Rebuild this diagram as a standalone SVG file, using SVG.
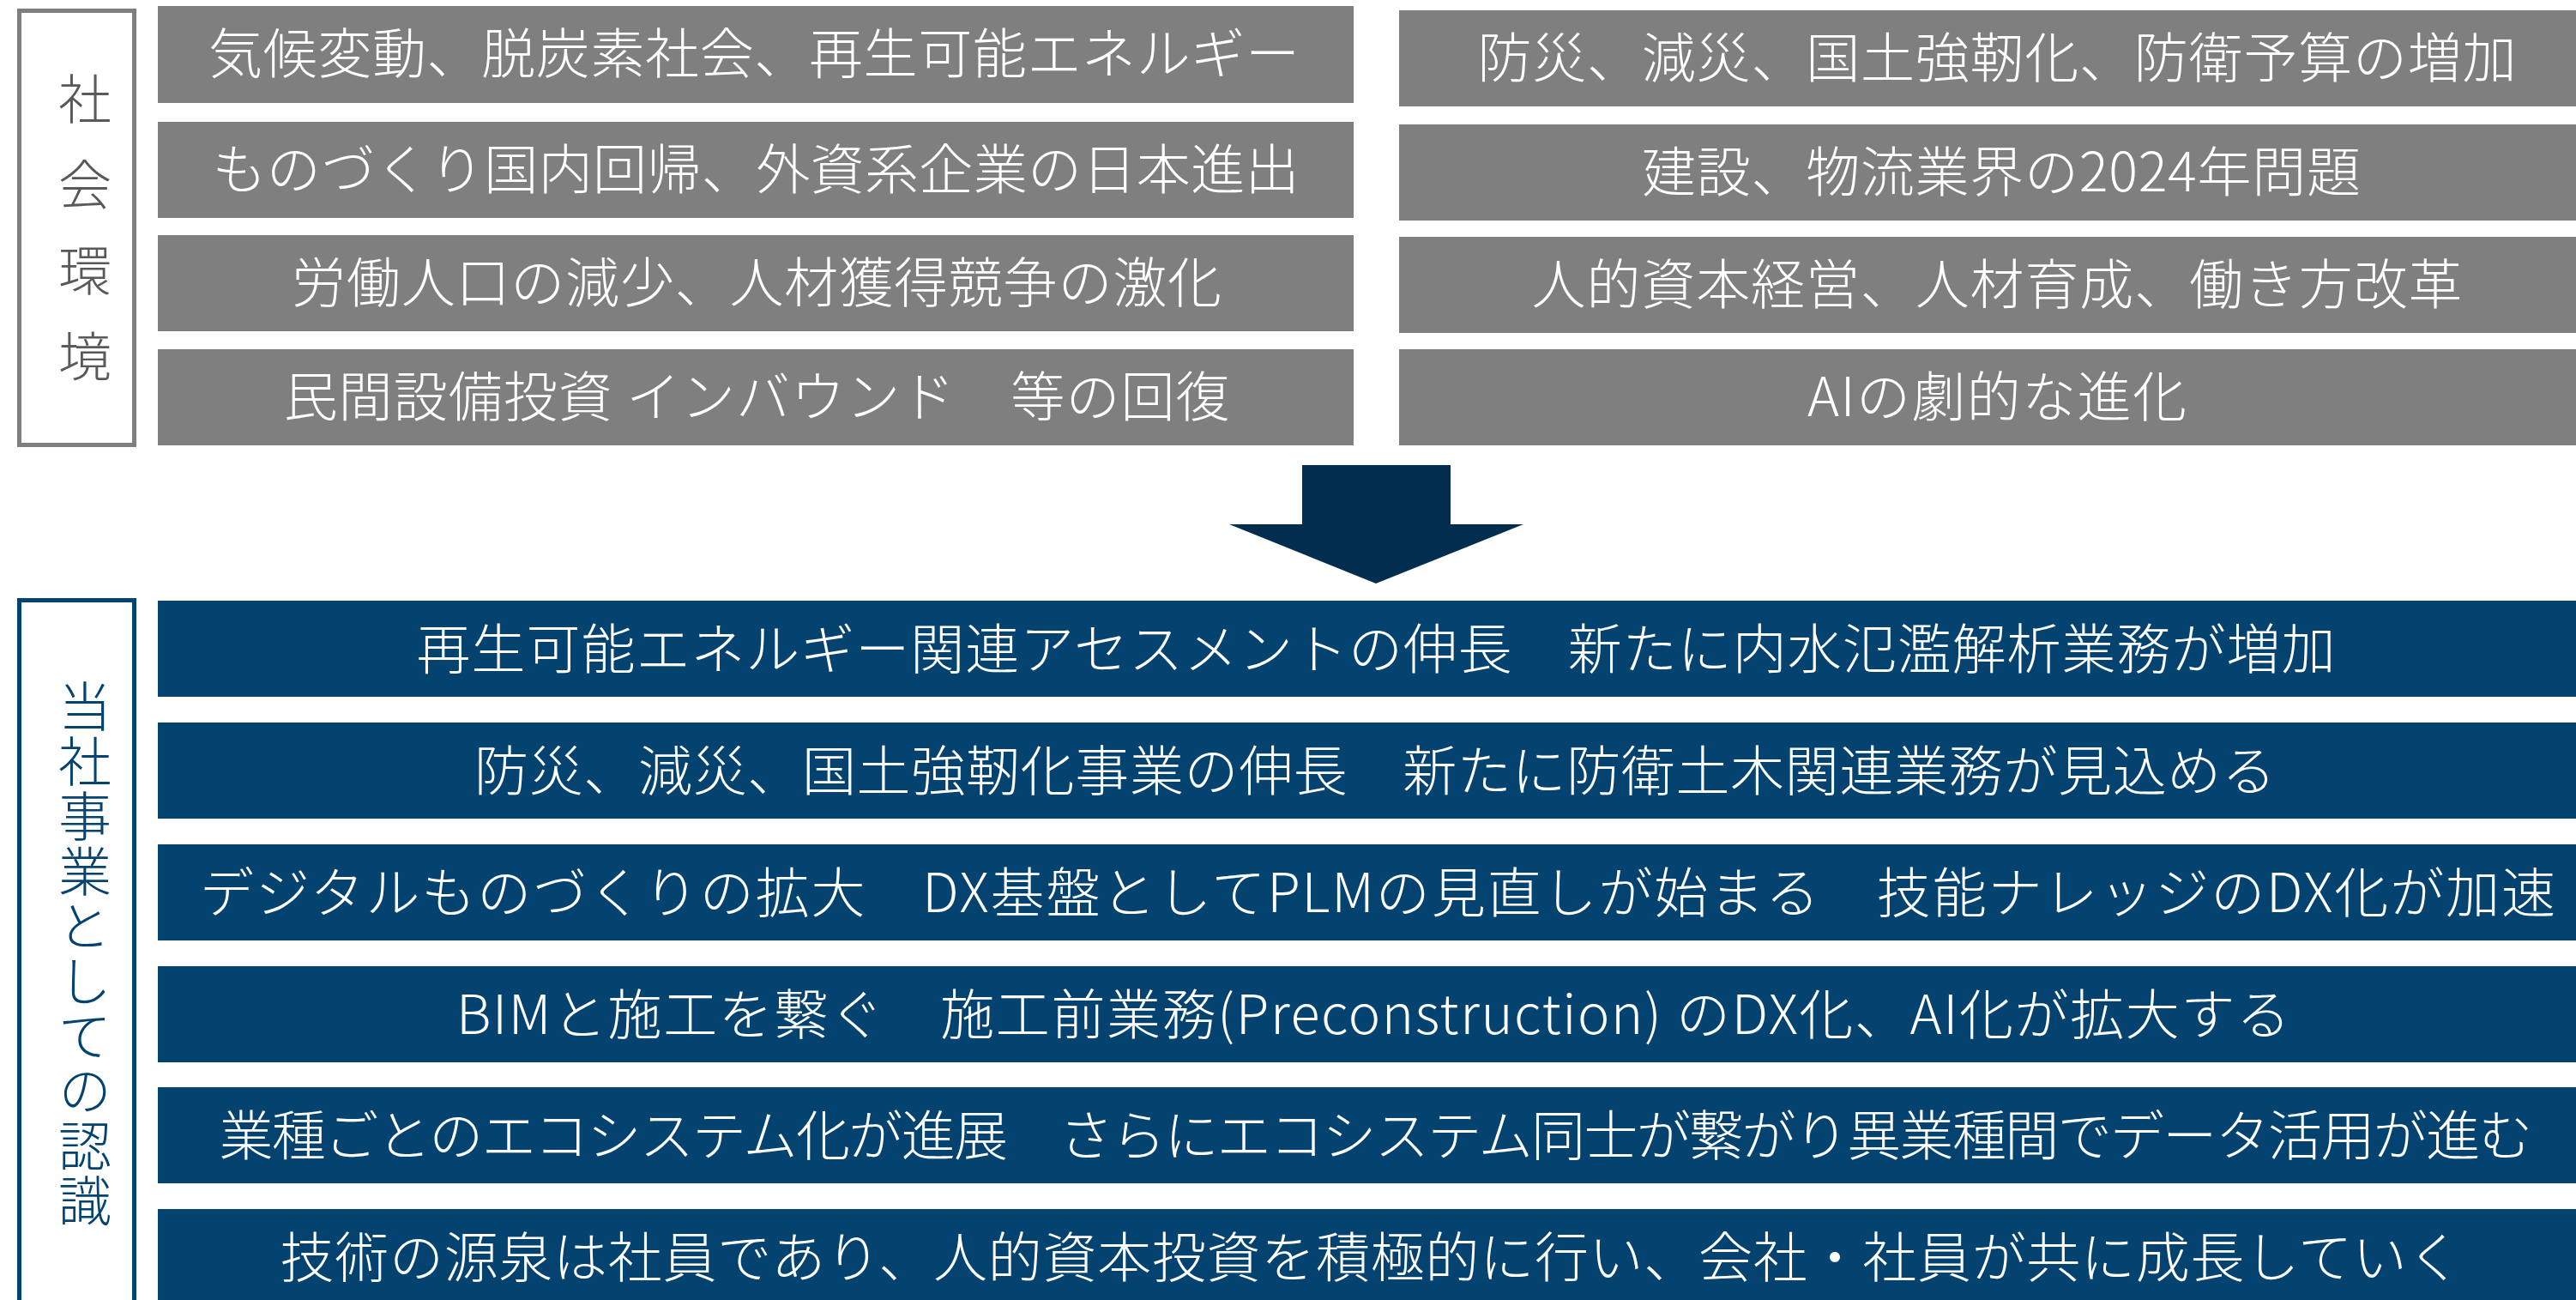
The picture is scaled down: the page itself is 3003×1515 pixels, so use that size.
<svg xmlns="http://www.w3.org/2000/svg" width="3003" height="1515" viewBox="0 0 3003 1515">
<style>
.bg{fill:#ffffff}
.gbox{fill:#7f7f7f}
.bbox{fill:#04426f}
.t{font-family:"Noto Sans CJK JP","Noto Sans",sans-serif;font-weight:300;font-size:63px;fill:#ffffff;text-anchor:middle}
.glab{fill:none;stroke:#7f7f7f;stroke-width:5}
.blab{fill:none;stroke:#04426f;stroke-width:5}
.gl{font-family:"Noto Sans CJK JP","Noto Sans",sans-serif;font-weight:300;font-size:62px;fill:#595959;writing-mode:vertical-rl;text-anchor:start;letter-spacing:38px}
.bl{font-family:"Noto Sans CJK JP","Noto Sans",sans-serif;font-weight:300;font-size:62px;fill:#04426f;writing-mode:vertical-rl;text-anchor:start;letter-spacing:2px}
.arrow{fill:#032d4e}
</style>
<rect class="bg" x="0" y="0" width="3003" height="1515"/>

<g id="label-shakai">
<rect class="glab" x="22.5" y="12.5" width="134" height="506"/>
<text class="gl" x="99" y="84">社会環境</text>
</g>

<g id="env-l1"><rect class="gbox" x="184" y="7" width="1394" height="113"/><text class="t" x="879" y="85" textLength="1272" lengthAdjust="spacing">気候変動、脱炭素社会、再生可能エネルギー</text></g>
<g id="env-l2"><rect class="gbox" x="184" y="142" width="1394" height="112"/><text class="t" x="881" y="220" textLength="1267" lengthAdjust="spacing">ものづくり国内回帰、外資系企業の日本進出</text></g>
<g id="env-l3"><rect class="gbox" x="184" y="274" width="1394" height="112"/><text class="t" x="882" y="352" textLength="1084" lengthAdjust="spacing">労働人口の減少、人材獲得競争の激化</text></g>
<g id="env-l4"><rect class="gbox" x="184" y="407" width="1394" height="112"/><text class="t" x="882" y="485" textLength="1103" lengthAdjust="spacing">民間設備投資 インバウンド　等の回復</text></g>

<g id="env-r1"><rect class="gbox" x="1631" y="12" width="1372" height="112"/><text class="t" x="2328" y="90" textLength="1211" lengthAdjust="spacing">防災、減災、国土強靭化、防衛予算の増加</text></g>
<g id="env-r2"><rect class="gbox" x="1631" y="145" width="1372" height="112"/><text class="t" x="2333" y="223" textLength="838" lengthAdjust="spacing">建設、物流業界の2024年問題</text></g>
<g id="env-r3"><rect class="gbox" x="1631" y="276" width="1372" height="112"/><text class="t" x="2328" y="354" textLength="1085" lengthAdjust="spacing">人的資本経営、人材育成、働き方改革</text></g>
<g id="env-r4"><rect class="gbox" x="1631" y="407" width="1372" height="112"/><text class="t" x="2328" y="485" textLength="442" lengthAdjust="spacing">AIの劇的な進化</text></g>

<g id="connectors">
<polygon class="arrow" points="1518,542 1691,542 1691,611 1776,611 1604,680 1433,611 1518,611"/>
</g>

<g id="label-tousha">
<rect class="blab" x="22.5" y="699.5" width="134" height="830"/>
<text class="bl" x="99" y="792">当社事業としての認識</text>
</g>

<g id="biz-1"><rect class="bbox" x="184" y="700" width="2819" height="112"/><text class="t" x="1604" y="779" textLength="2237" lengthAdjust="spacing">再生可能エネルギー関連アセスメントの伸長　新たに内水氾濫解析業務が増加</text></g>
<g id="biz-2"><rect class="bbox" x="184" y="842" width="2819" height="112"/><text class="t" x="1603" y="921" textLength="2100" lengthAdjust="spacing">防災、減災、国土強靭化事業の伸長　新たに防衛土木関連業務が見込める</text></g>
<g id="biz-3"><rect class="bbox" x="184" y="984" width="2819" height="112"/><text class="t" x="1606" y="1063" textLength="2746" lengthAdjust="spacing">デジタルものづくりの拡大　DX基盤としてPLMの見直しが始まる　技能ナレッジのDX化が加速</text></g>
<g id="biz-4"><rect class="bbox" x="184" y="1126" width="2819" height="112"/><text class="t" x="1601" y="1205" textLength="2138" lengthAdjust="spacing">BIMと施工を繋ぐ　施工前業務(Preconstruction) のDX化、AI化が拡大する</text></g>
<g id="biz-5"><rect class="bbox" x="184" y="1267" width="2819" height="112"/><text class="t" x="1604" y="1346" textLength="2697" lengthAdjust="spacing">業種ごとのエコシステム化が進展　さらにエコシステム同士が繋がり異業種間でデータ活用が進む</text></g>
<g id="biz-6"><rect class="bbox" x="184" y="1409" width="2819" height="112"/><text class="t" x="1598" y="1488" textLength="2543" lengthAdjust="spacing">技術の源泉は社員であり、人的資本投資を積極的に行い、会社・社員が共に成長していく</text></g>
</svg>
